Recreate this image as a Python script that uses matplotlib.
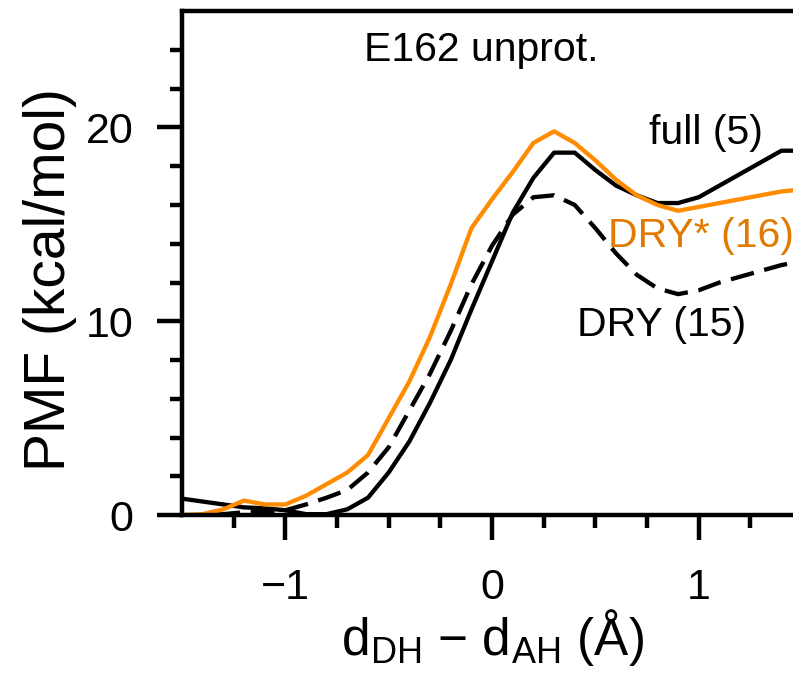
import numpy as np
import matplotlib
matplotlib.use("Agg")
import matplotlib.pyplot as plt

fam = "Liberation Sans"
plt.rcParams['font.family'] = [fam, 'DejaVu Sans']
plt.rcParams['mathtext.default'] = 'regular'
plt.rcParams['mathtext.fontset'] = 'custom'
plt.rcParams['mathtext.rm'] = fam

# reaction coordinate d_DH - d_AH (Angstrom), 0.1 steps
x = np.round(np.arange(-1.5, 1.51, 0.1), 2)

# PMF values (kcal/mol)
full = [0.85, 0.7, 0.55, 0.4, 0.35, 0.25, 0.05, 0.05, 0.3, 0.9,
        2.2, 3.8, 5.8, 8.0, 10.6, 13.1, 15.6, 17.4, 18.7, 18.7,
        17.8, 17.0, 16.5, 16.1, 16.1, 16.4, 17.0, 17.6, 18.2, 18.8, 18.8]
dry = [0.0, 0.0, 0.05, 0.15, 0.2, 0.25, 0.55, 0.9, 1.3, 2.2,
       3.5, 5.4, 7.3, 9.5, 11.9, 13.9, 15.5, 16.4, 16.5, 16.0,
       14.8, 13.5, 12.4, 11.7, 11.4, 11.6, 12.0, 12.3, 12.6, 12.9, 13.1]
dry_star = [0.0, 0.05, 0.3, 0.75, 0.55, 0.55, 1.0, 1.6, 2.2, 3.1,
            5.0, 6.9, 9.2, 11.9, 14.8, 16.3, 17.7, 19.2, 19.8, 19.2,
            18.3, 17.3, 16.5, 16.0, 15.7, 15.9, 16.1, 16.3, 16.5, 16.7, 16.8]

orange = '#FF8C00'
orange_txt = '#E07A00'

fig = plt.figure(figsize=(7.93, 6.76), dpi=100)
ax = fig.add_axes([0.2295, 0.238, 0.782, 0.7455])  # runs off the right edge

ax.plot(x, full, color='black', lw=3.1)
ax.plot(x, dry, color='black', lw=3.1, linestyle=(0, (5.5, 2.5)))
ax.plot(x, dry_star, color=orange, lw=3.1)

ax.set_xlim(-1.5, 1.5)
ax.set_ylim(0, 26)
ax.set_xticks([-1, 0, 1])
ax.set_xticklabels(['\u22121', '0', '1'])
ax.set_xticks(np.arange(-1.25, 1.5, 0.25), minor=True)
ax.set_yticks([0, 10, 20])
ax.set_yticks(np.arange(2, 26, 2), minor=True)

for s in ax.spines.values():
    s.set_linewidth(3.2)
ax.tick_params(which='major', length=18, width=3.2, labelsize=31)
ax.tick_params(which='minor', length=9, width=3.2)
ax.tick_params(axis='y', which='major', pad=17)
ax.tick_params(axis='x', which='major', pad=20)

ax.set_ylabel('PMF (kcal/mol)', fontsize=41)
ax.set_xlabel('d$_{DH}$ \u2212 d$_{AH}$ (\u00c5)', fontsize=37)
ax.yaxis.set_label_coords(-0.17, 0.468)
ax.xaxis.set_label_coords(0.5, -0.182)

ax.text(-0.62, 24.0, 'E162 unprot.', fontsize=29.5, ha='left', va='center')
ax.text(0.76, 19.7, 'full (5)', fontsize=29.5, ha='left', va='center')
ax.text(0.56, 14.4, 'DRY* (16)', fontsize=29.5, ha='left', va='center', color=orange_txt)
ax.text(0.41, 9.8, 'DRY (15)', fontsize=29.5, ha='left', va='center')

fig.savefig('out.png', dpi=100)
